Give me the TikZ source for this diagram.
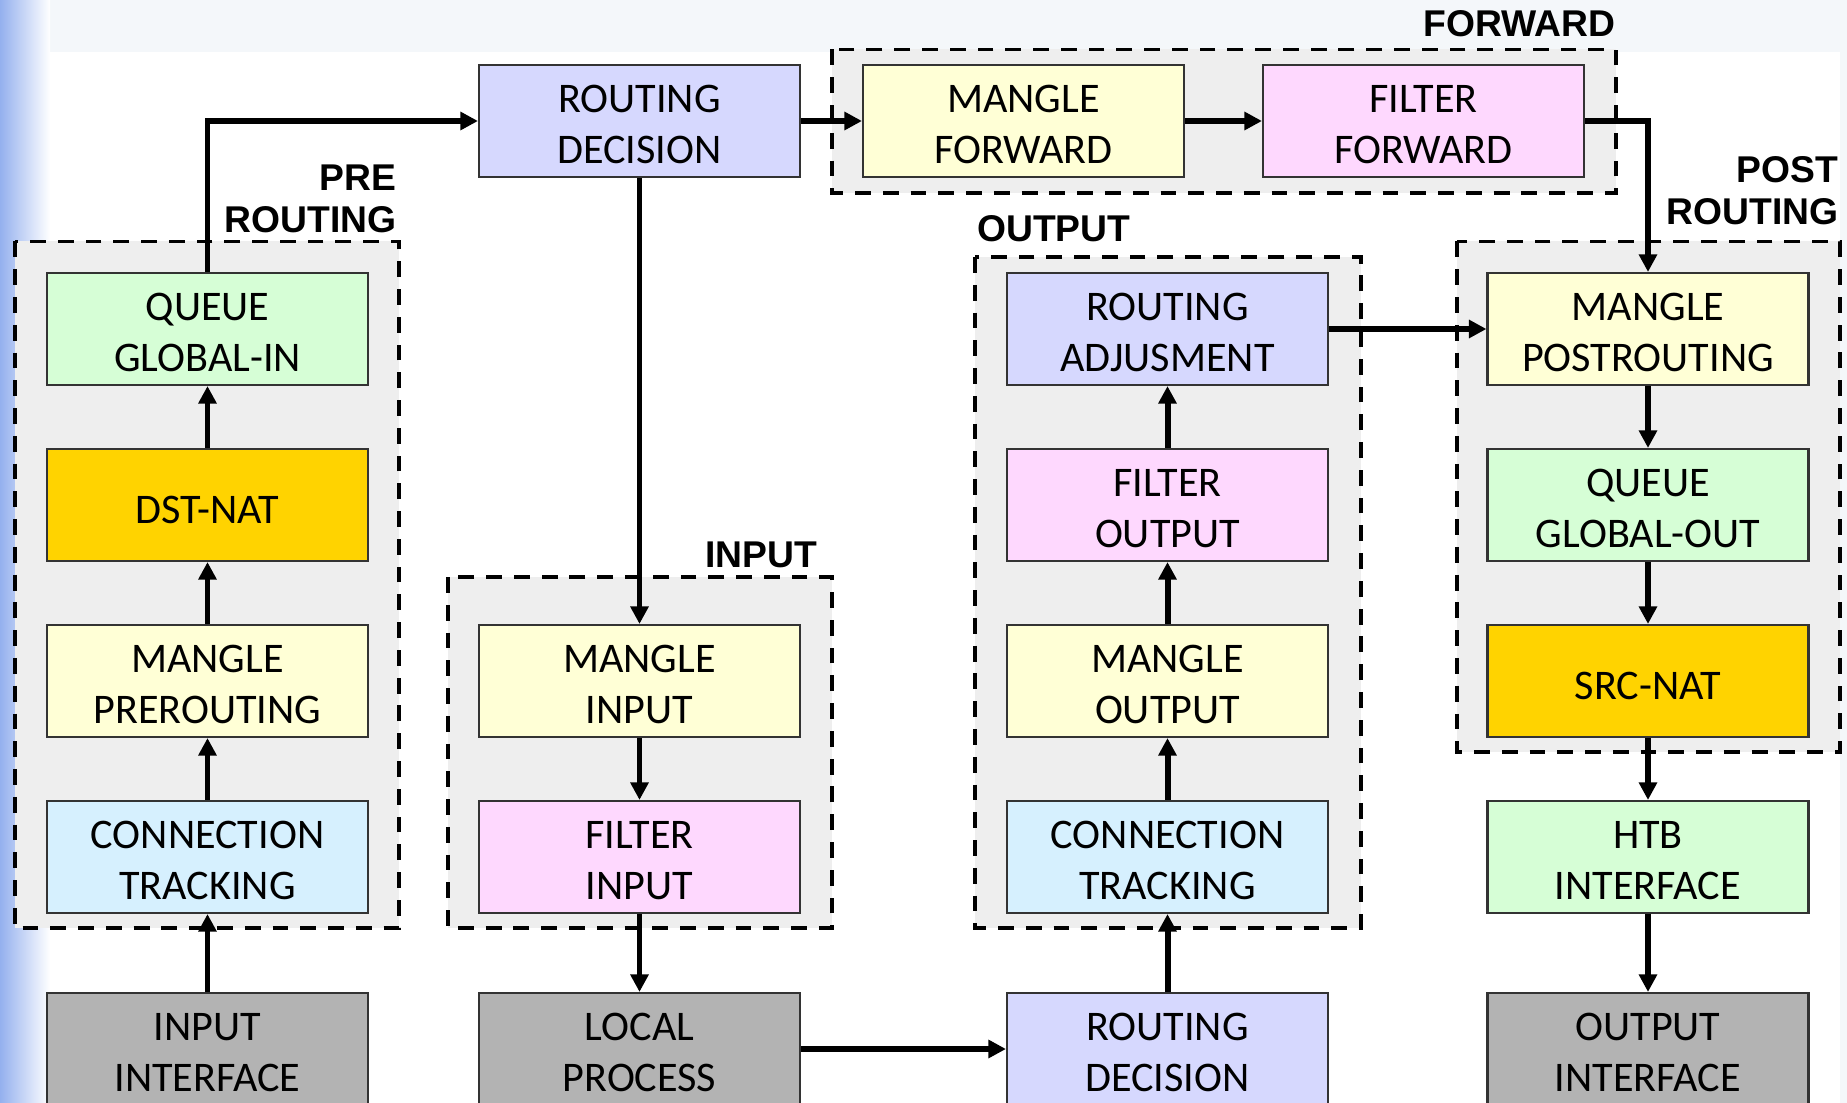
\documentclass[tikz,border=0pt]{standalone}
\usepackage{fontspec}
\setmainfont{Carlito}
\newfontfamily\rotulofont{Liberation Sans}
\usetikzlibrary{arrows.meta}

\definecolor{rota}{HTML}{D6D8FE}
\definecolor{mangle}{HTML}{FFFFD6}
\definecolor{filtro}{HTML}{FED8FE}
\definecolor{fila}{HTML}{D6FED6}
\definecolor{nat}{HTML}{FFD300}
\definecolor{conexao}{HTML}{D6F0FE}
\definecolor{cinzaif}{HTML}{B3B3B3}
\definecolor{cinzagrupo}{HTML}{EEEEEE}
\definecolor{fundo}{HTML}{F4F7FA}
\definecolor{faixa}{HTML}{94B0EE}

\begin{document}
\begin{tikzpicture}[
  caixa/.style={rectangle,draw=black!80,line width=0.6pt,minimum width=3.21cm,
    minimum height=1.12cm,inner sep=0pt,align=center,text height=24.3pt,text depth=0pt,
    font=\fontsize{12}{14.5}\selectfont},
  nat/.style={caixa,fill=nat,text height=10.4pt},
  grupo/.style={fill=cinzagrupo,draw=black,line width=1pt,dash pattern=on 4.5pt off 3.4pt},
  rotulo/.style={inner sep=0pt,font=\rotulofont\bfseries\fontsize{10.6}{12.1}\selectfont},
  seta/.style={line width=1.7pt,-{Triangle[width=5pt,length=5pt]}}
]
\useasboundingbox (0,0) rectangle (18.47,-11.03);
% Fundo
\fill[fundo] (0,0) rectangle (18.47,-11.03);
\fill[white] (0.5,-0.52) rectangle (18.40,-11.03);
\shade[left color=faixa,right color=white] (0,0) rectangle (0.5,-11.03);
% Grupos tracejados
\draw[grupo] (0.15,-2.415) rectangle (3.99,-9.28);
\draw[grupo] (8.32,-0.495) rectangle (16.16,-1.93);
\draw[grupo] (4.48,-5.77) rectangle (8.32,-9.28);
\draw[grupo] (9.75,-2.57) rectangle (13.61,-9.28);
\draw[grupo] (14.57,-2.415) rectangle (18.40,-7.52);
\node[rotulo,anchor=south east,align=right] (lpre) at (3.97,-2.34) {PRE\\ROUTING};
\node[rotulo,anchor=south east] (lfw) at (16.16,-0.38) {FORWARD};
\node[rotulo,anchor=south east] (lin) at (8.18,-5.69) {INPUT};
\node[rotulo,anchor=south west] (lout) at (9.765,-2.43) {OUTPUT};
\node[rotulo,anchor=south east,align=right] (lpost) at (18.39,-2.26) {POST\\ROUTING};
% Pre-roteamento
\node[caixa,fill=fila] (qin) at (2.075,-3.29) {QUEUE\\GLOBAL-IN};
\node[nat] (dnat) at (2.075,-5.05) {DST-NAT};
\node[caixa,fill=mangle] (mpre) at (2.075,-6.81) {MANGLE\\PREROUTING};
\node[caixa,fill=conexao] (ct1) at (2.075,-8.57) {CONNECTION\\TRACKING};
\node[caixa,fill=cinzaif] (iin) at (2.075,-10.49) {INPUT\\INTERFACE};
% Entrada
\node[caixa,fill=rota] (rd1) at (6.395,-1.21) {ROUTING\\DECISION};
\node[caixa,fill=mangle] (min) at (6.395,-6.81) {MANGLE\\INPUT};
\node[caixa,fill=filtro] (fin) at (6.395,-8.57) {FILTER\\INPUT};
\node[caixa,fill=cinzaif] (lp) at (6.395,-10.49) {LOCAL\\PROCESS};
% Encaminhamento
\node[caixa,fill=mangle] (mfw) at (10.235,-1.21) {MANGLE\\FORWARD};
\node[caixa,fill=filtro] (ffw) at (14.235,-1.21) {FILTER\\FORWARD};
% Saida
\node[caixa,fill=rota] (radj) at (11.675,-3.29) {ROUTING\\ADJUSMENT};
\node[caixa,fill=filtro] (fout) at (11.675,-5.05) {FILTER\\OUTPUT};
\node[caixa,fill=mangle] (mout) at (11.675,-6.81) {MANGLE\\OUTPUT};
\node[caixa,fill=conexao] (ct2) at (11.675,-8.57) {CONNECTION\\TRACKING};
\node[caixa,fill=rota] (rd2) at (11.675,-10.49) {ROUTING\\DECISION};
% Pos-roteamento
\node[caixa,fill=mangle] (mpost) at (16.48,-3.29) {MANGLE\\POSTROUTING};
\node[caixa,fill=fila] (qout) at (16.48,-5.05) {QUEUE\\GLOBAL-OUT};
\node[nat] (snat) at (16.48,-6.81) {SRC-NAT};
\node[caixa,fill=fila] (htb) at (16.48,-8.57) {HTB\\INTERFACE};
\node[caixa,fill=cinzaif] (oif) at (16.48,-10.49) {OUTPUT\\INTERFACE};
% Conexoes
\foreach \a/\b in {iin/ct1,ct1/mpre,mpre/dnat,dnat/qin,min/fin,fin/lp,
    rd2/ct2,ct2/mout,mout/fout,fout/radj,mpost/qout,qout/snat,snat/htb,htb/oif,
    rd1/mfw,mfw/ffw,radj/mpost,lp/rd2}
  \draw[seta] (\a) -- (\b);
\draw[seta] (qin.north) |- (rd1.west);
\draw[seta] (rd1.south) -- (min.north);
\draw[seta] (ffw.east) -| (mpost.north);
\end{tikzpicture}
\end{document}
